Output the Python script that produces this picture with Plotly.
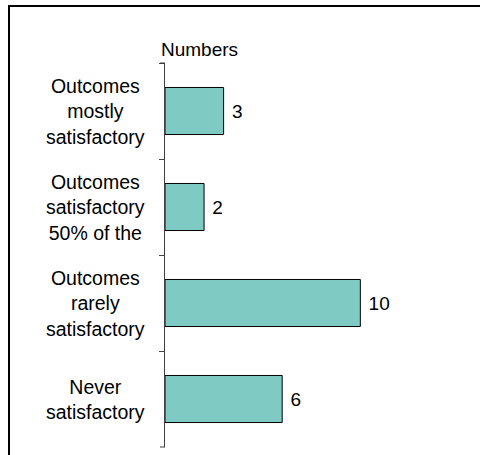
import plotly.graph_objects as go

categories = [
    "Outcomes<br>mostly<br>satisfactory",
    "Outcomes<br>satisfactory<br>50% of the",
    "Outcomes<br>rarely<br>satisfactory",
    "Never<br>satisfactory",
]
values = [3, 2, 10, 6]
axis_title = "Numbers"

FONT = "Liberation Sans, Arial, sans-serif"
L, R, T, B = 165, 22, 63, 8
W, H = 480, 455
pw, ph = W - L - R, H - T - B
AXC = "#404040"

fig = go.Figure()
fig.add_trace(go.Bar(
    x=values, y=categories, orientation="h",
    marker=dict(color="#7FCBC4", line=dict(color="#000000", width=1)),
    text=["\u00a0" + str(v) for v in values],
    textposition="outside", cliponaxis=False,
    textfont=dict(family=FONT, size=19, color="#000000"),
    hoverinfo="skip",
))

annotations = []
for c in categories:
    annotations.append(dict(
        x=(95 - L) / pw, xref="paper", y=c, yref="y",
        text=c, showarrow=False, xanchor="center", yanchor="middle",
        align="center", font=dict(family=FONT, size=19.5, color="#000000"),
    ))
annotations.append(dict(
    x=(199 - L) / pw, xref="paper", y=1 + (T - 49) / ph, yref="paper",
    text=axis_title, showarrow=False, xanchor="center", yanchor="middle",
    font=dict(family=FONT, size=19, color="#000000"),
))

shapes = [dict(
    type="rect", xref="paper", yref="paper",
    x0=(9 - L) / pw, x1=(490 - L) / pw,
    y0=1 - (470 - T) / ph, y1=1 + (T - 6) / ph,
    line=dict(color="#000000", width=2), fillcolor="rgba(0,0,0,0)",
)]
# end ticks of the category axis (top and bottom boundaries)
for yp in (0, 1):
    shapes.append(dict(
        type="line", xref="paper", yref="paper",
        x0=-5 / pw, x1=0, y0=yp, y1=yp,
        line=dict(color=AXC, width=1),
    ))

fig.update_layout(
    width=W, height=H,
    margin=dict(l=L, r=R, t=T, b=B, pad=0),
    paper_bgcolor="white", plot_bgcolor="white",
    showlegend=False, bargap=0.51,
    font=dict(family=FONT, size=19, color="#000000"),
    xaxis=dict(range=[0, 15], visible=False, showgrid=False, zeroline=False),
    yaxis=dict(
        autorange="reversed", showline=True, linecolor=AXC, linewidth=1,
        ticks="outside", ticklen=5, tickcolor=AXC, tickwidth=1,
        tickson="boundaries", showticklabels=False, showgrid=False, zeroline=False,
    ),
    annotations=annotations,
    shapes=shapes,
)

fig.write_html("out.html")
